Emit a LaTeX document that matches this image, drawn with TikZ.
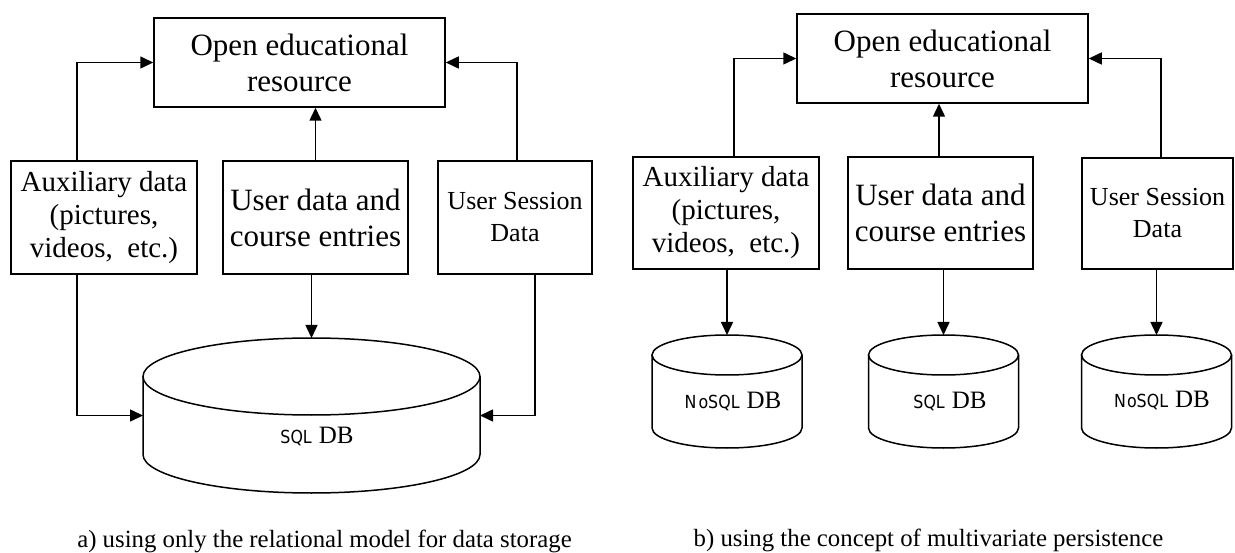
\documentclass[tikz,border=0pt]{standalone}
\usepackage{fontspec}
\setmainfont{Liberation Serif}
\newfontfamily\dbsans[FakeStretch=0.88]{DejaVu Sans}
\usetikzlibrary{arrows.meta}
\newcommand\drawdbcyl[3]{%
  \draw[ln] ([yshift=-#3]#1.north) ellipse [x radius=#2, y radius=#3];
  \draw[ln] ([yshift=-#3]#1.north west) -- ([yshift=#3]#1.south west)
     arc[start angle=180, end angle=360, x radius=#2, y radius=#3]
     -- ([yshift=-#3]#1.north east);}
\newcommand\dblabel[1]{{\dbsans\fontsize{18}{20}\selectfont #1}\hspace{7pt}{\fontsize{25}{28}\selectfont DB}}
\begin{document}
\begin{tikzpicture}[x=1pt,y=-1pt,
  box/.style={draw, line width=1.5pt, inner sep=0pt, align=center},
  ln/.style={line width=1.5pt},
  arr/.style={line width=1.5pt, -{Triangle[length=13pt,width=12pt]}},
  cylbox/.style={inner sep=0pt, outer sep=0pt},
  oerfont/.style={font=\fontsize{31}{36}\selectfont},
  auxfont/.style={font=\fontsize{29}{33}\selectfont},
  userfont/.style={font=\fontsize{31}{36}\selectfont},
  sessfont/.style={font=\fontsize{26}{32}\selectfont},
  capfont/.style={font=\fontsize{24.8}{28}\selectfont},
]
\useasboundingbox (0,0) rectangle (1235,553);

% ---------- a) ----------
\node[box, oerfont, minimum width=291pt, minimum height=89pt] (oerA) at (299.5,62.5) {Open educational\\resource};
\node[box, auxfont, minimum width=186pt, minimum height=113pt] (auxA) at (104,217.5) {Auxiliary data\\(pictures,\\videos,\ \ etc.)};
\node[box, userfont, minimum width=185pt, minimum height=113pt] (userA) at (315.5,217.5) {User data and\\course entries};
\node[box, sessfont, minimum width=154pt, minimum height=113pt] (sessA) at (515,217.5) {User Session\\Data};
\node[cylbox, minimum width=337pt, minimum height=155pt] (cylA) at (311.5,415.5) {};
\drawdbcyl{cylA}{168.5pt}{38.5pt}
\node (dbA) at (317,436) {\dblabel{SQL}};

\draw[arr] ([xshift=-27pt]auxA.north) |- (oerA.west);
\draw[arr] (userA.north) -- (userA.north |- oerA.south);
\draw[arr] ([xshift=2pt]sessA.north) |- (oerA.east);
\draw[arr] ([xshift=-27pt]auxA.south) |- (cylA.west);
\draw[arr] (cylA.north |- userA.south) -- (cylA.north);
\draw[arr] ([xshift=20pt]sessA.south) |- (cylA.east);

\node[capfont, anchor=base] (capA) at (324.5,547) {a) using only the relational model for data storage};

% ---------- b) ----------
\node[box, oerfont, minimum width=291pt, minimum height=89pt] (oerB) at (942.5,58.5) {Open educational\\resource};
\node[box, auxfont, minimum width=186pt, minimum height=112pt] (auxB) at (726,213) {Auxiliary data\\(pictures,\\videos,\ \ etc.)};
\node[box, userfont, minimum width=185pt, minimum height=112pt] (userB) at (940.5,213) {User data and\\course entries};
\node[box, sessfont, minimum width=151pt, minimum height=111pt] (sessB) at (1157.5,213.5) {User Session\\Data};

\node[cylbox, minimum width=150pt, minimum height=113pt] (cylB1) at (727,391.5) {};
\node[cylbox, minimum width=150pt, minimum height=113pt] (cylB2) at (943.5,391.5) {};
\node[cylbox, minimum width=150pt, minimum height=113pt] (cylB3) at (1156.5,391.5) {};
\drawdbcyl{cylB1}{75pt}{20pt}
\drawdbcyl{cylB2}{75pt}{20pt}
\drawdbcyl{cylB3}{75pt}{20pt}
\node (dbB1) at (733,401) {\dblabel{N\kern2pt oSQL}};
\node (dbB2) at (950,401) {\dblabel{SQL}};
\node (dbB3) at (1162,400) {\dblabel{N\kern1pt oSQL}};

\draw[arr] ([xshift=8pt]auxB.north) |- (oerB.west);
\draw[arr] ([xshift=-1.5pt]userB.north) -- ([xshift=-1.5pt]userB.north |- oerB.south);
\draw[arr] ([xshift=3.5pt]sessB.north) |- (oerB.east);
\draw[arr] (cylB1.north |- auxB.south) -- (cylB1.north);
\draw[arr] (cylB2.north |- userB.south) -- (cylB2.north);
\draw[arr] (cylB3.north |- sessB.south) -- (cylB3.north);

\node[capfont, anchor=base] (capB) at (928.5,546) {b) using the concept of multivariate persistence};
\end{tikzpicture}
\end{document}
